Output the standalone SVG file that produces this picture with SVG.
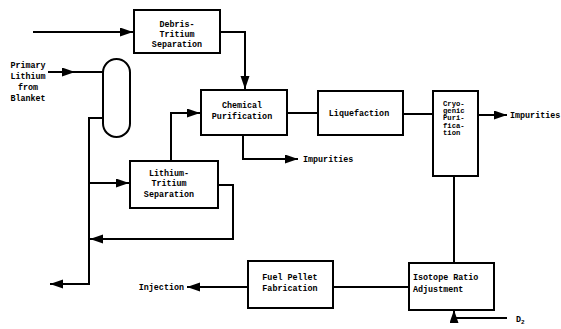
<svg xmlns="http://www.w3.org/2000/svg" width="561" height="329" viewBox="0 0 561 329">
<style>
.box{fill:#fff;stroke:#000;stroke-width:2}
.ln{fill:none;stroke:#000;stroke-width:2}
.t{font-family:"Liberation Mono",monospace;font-weight:bold;font-size:8.4px;fill:#000}
.s{font-size:7.2px}
</style>
<defs>
<marker id="ah" markerUnits="userSpaceOnUse" markerWidth="14" markerHeight="10" refX="13" refY="4.5" orient="auto">
<path d="M0,0 L13,4.5 L0,9 z" fill="#000"/>
</marker>
</defs>
<rect width="561" height="329" fill="#fff"/>
<g id="connectors">
<path class="ln" d="M33,32 L133,32" marker-end="url(#ah)"/>
<path class="ln" d="M48,72 L75,72" marker-end="url(#ah)"/>
<path class="ln" d="M73,72 L103,72"/>
<path class="ln" d="M220,32 L245,32 L245,89" marker-end="url(#ah)"/>
<path class="ln" d="M103,118 L89,118 L89,284 L50,284" marker-end="url(#ah)"/>
<path class="ln" d="M89,183 L129,183" marker-end="url(#ah)"/>
<path class="ln" d="M171,161 L171,113 L200,113" marker-end="url(#ah)"/>
<path class="ln" d="M243,135 L243,159 L298,159" marker-end="url(#ah)"/>
<path class="ln" d="M287,113 L318,113"/>
<path class="ln" d="M403,114 L433,114"/>
<path class="ln" d="M478,115 L507,115" marker-end="url(#ah)"/>
<path class="ln" d="M454,176 L454,263"/>
<path class="ln" d="M409,287 L333,287"/>
<path class="ln" d="M248,287 L187,287" marker-end="url(#ah)"/>
<path class="ln" d="M218,185 L233,185 L233,239 L90,239" marker-end="url(#ah)"/>
<path class="ln" d="M507,318 L454,318 L454,310" marker-end="url(#ah)"/>
</g>
<g id="primary-lithium">
<text class="t" text-anchor="middle" x="28" y="68">Primary</text>
<text class="t" text-anchor="middle" x="28" y="79">Lithium</text>
<text class="t" text-anchor="middle" x="28" y="90">from</text>
<text class="t" text-anchor="middle" x="28" y="101">Blanket</text>
</g>
<g id="vessel">
<rect class="box" x="103" y="59" width="27" height="78" rx="13.5" ry="13.5"/>
</g>
<g id="debris-tritium">
<rect class="box" x="134" y="10" width="86" height="43"/>
<text class="t" text-anchor="middle" x="177" y="27">Debris-</text>
<text class="t" text-anchor="middle" x="177" y="37">Tritium</text>
<text class="t" text-anchor="middle" x="177" y="47">Separation</text>
</g>
<g id="chemical-purification">
<rect class="box" x="201" y="90" width="86" height="45"/>
<text class="t" text-anchor="middle" x="242" y="108">Chemical</text>
<text class="t" text-anchor="middle" x="242" y="119">Purification</text>
</g>
<g id="impurities-1">
<text class="t" x="303" y="162">Impurities</text>
</g>
<g id="liquefaction">
<rect class="box" x="318" y="91" width="85" height="44"/>
<text class="t" text-anchor="middle" x="359" y="116">Liquefaction</text>
</g>
<g id="cryogenic">
<rect class="box" x="433" y="91" width="45" height="85"/>
<text class="t s" x="443" y="106">Cryo-</text>
<text class="t s" x="443" y="113">genic</text>
<text class="t s" x="443" y="120">Puri-</text>
<text class="t s" x="443" y="128">fica-</text>
<text class="t s" x="443" y="135">tion</text>
</g>
<g id="impurities-2">
<text class="t" x="510" y="118">Impurities</text>
</g>
<g id="lithium-tritium">
<rect class="box" x="130" y="161" width="88" height="47"/>
<text class="t" text-anchor="middle" x="169" y="176">Lithium-</text>
<text class="t" text-anchor="middle" x="169" y="186">Tritium</text>
<text class="t" text-anchor="middle" x="169" y="197">Separation</text>
</g>
<g id="fuel-pellet">
<rect class="box" x="248" y="261" width="85" height="47"/>
<text class="t" text-anchor="middle" x="290" y="280">Fuel Pellet</text>
<text class="t" text-anchor="middle" x="290" y="291">Fabrication</text>
</g>
<g id="injection">
<text class="t" text-anchor="end" x="184" y="290">Injection</text>
</g>
<g id="isotope-ratio">
<rect class="box" x="409" y="263" width="85" height="47"/>
<text class="t" x="413" y="280">Isotope Ratio</text>
<text class="t" x="413" y="292">Adjustment</text>
</g>
<g id="d2">
<text class="t" x="516" y="322">D<tspan font-size="6" dy="2">2</tspan></text>
</g>
</svg>
